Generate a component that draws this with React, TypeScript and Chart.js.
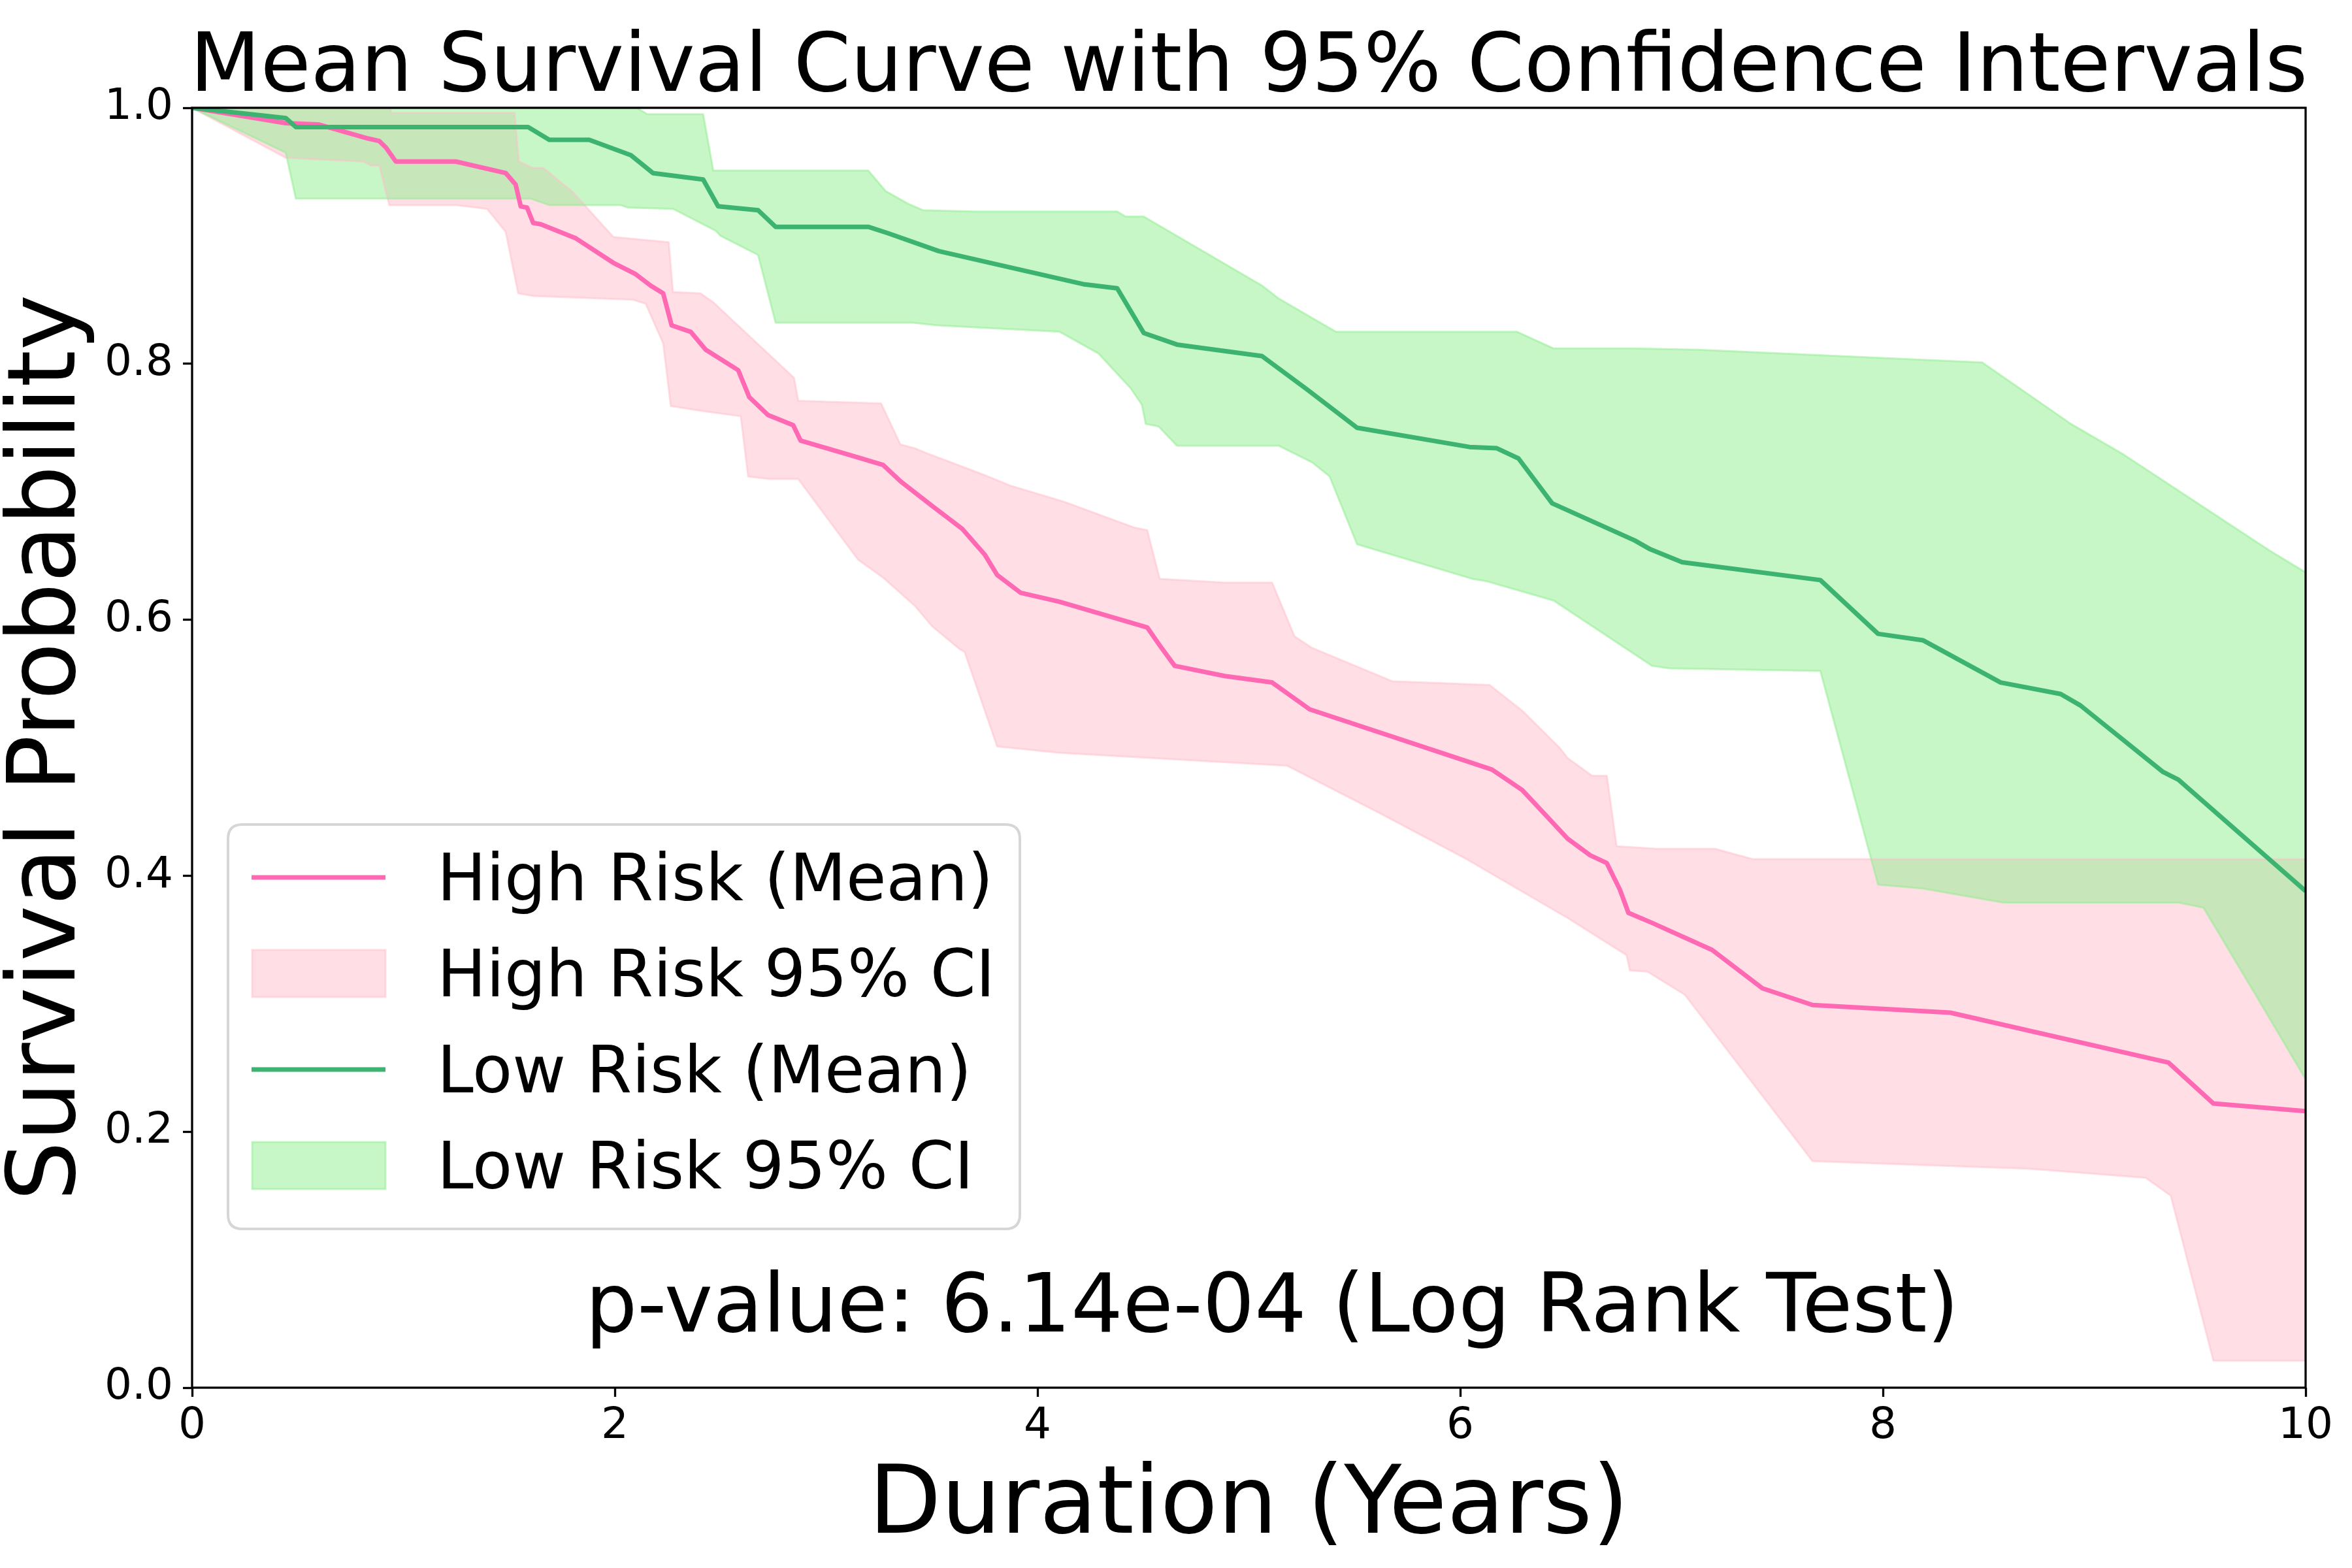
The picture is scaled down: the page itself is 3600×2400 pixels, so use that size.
import React, { useEffect, useRef } from 'react';
import { Chart, registerables } from 'chart.js';

Chart.register(...registerables);

const FONT = '"DejaVu Sans", "Liberation Sans", sans-serif';

// ---------- data ----------
const xTicks = [0, 2, 4, 6, 8, 10];
const yTicks = [0, 0.2, 0.4, 0.6, 0.8, 1.0];

const highMeanX = [0, 0.443, 0.597, 0.833, 0.886, 0.917, 0.964, 1.248, 1.484, 1.531, 1.555, 1.585, 1.614, 1.65, 1.816, 1.992, 2.099, 2.17, 2.229, 2.269, 2.359, 2.43, 2.584, 2.636, 2.725, 2.844, 2.879, 3.127, 3.269, 3.353, 3.501, 3.644, 3.75, 3.809, 3.921, 4.105, 4.519, 4.578, 4.649, 4.886, 5.11, 5.288, 6.15, 6.293, 6.395, 6.508, 6.615, 6.693, 6.756, 6.796, 6.91, 7.192, 7.43, 7.667, 8.319, 9.351, 9.564, 10];
const highMeanY = [1.0, 0.988, 0.987, 0.976, 0.974, 0.969, 0.958, 0.958, 0.949, 0.94, 0.923, 0.922, 0.91, 0.909, 0.898, 0.879, 0.87, 0.861, 0.855, 0.83, 0.825, 0.811, 0.795, 0.774, 0.76, 0.752, 0.74, 0.728, 0.721, 0.708, 0.689, 0.671, 0.651, 0.635, 0.621, 0.614, 0.594, 0.58, 0.564, 0.556, 0.551, 0.53, 0.483, 0.467, 0.449, 0.429, 0.416, 0.41, 0.389, 0.371, 0.363, 0.342, 0.312, 0.299, 0.293, 0.254, 0.222, 0.216];

const highUpperX = [0, 0.938, 0.943, 1.526, 1.546, 1.611, 1.662, 1.802, 1.993, 2.255, 2.275, 2.406, 2.466, 2.848, 2.868, 3.26, 3.351, 3.419, 3.478, 3.75, 3.868, 4.129, 4.459, 4.519, 4.578, 4.886, 5.11, 5.216, 5.299, 5.678, 6.139, 6.293, 6.47, 6.508, 6.625, 6.694, 6.74, 6.933, 7.206, 7.384, 10];
const highUpperY = [1.0, 1.0, 0.996, 0.996, 0.958, 0.953, 0.953, 0.934, 0.899, 0.895, 0.856, 0.855, 0.848, 0.789, 0.771, 0.769, 0.737, 0.734, 0.73, 0.713, 0.705, 0.692, 0.672, 0.67, 0.632, 0.629, 0.629, 0.587, 0.578, 0.552, 0.549, 0.529, 0.5, 0.492, 0.478, 0.478, 0.423, 0.421, 0.421, 0.413, 0.413];

const highLowerX = [0, 0.443, 0.81, 0.845, 0.886, 0.933, 1.248, 1.396, 1.484, 1.543, 1.614, 2.087, 2.146, 2.229, 2.265, 2.418, 2.596, 2.631, 2.725, 2.868, 3.151, 3.269, 3.419, 3.501, 3.632, 3.655, 3.809, 4.105, 5.181, 5.618, 6.03, 6.508, 6.787, 6.803, 6.886, 7.063, 7.667, 8.699, 9.244, 9.362, 9.564, 10];
const highLowerY = [1.0, 0.961, 0.958, 0.955, 0.955, 0.924, 0.924, 0.921, 0.903, 0.855, 0.853, 0.85, 0.847, 0.816, 0.767, 0.763, 0.759, 0.712, 0.71, 0.71, 0.647, 0.633, 0.611, 0.595, 0.577, 0.575, 0.501, 0.496, 0.486, 0.449, 0.413, 0.367, 0.338, 0.326, 0.325, 0.307, 0.177, 0.171, 0.164, 0.15, 0.021, 0.021];

const lowMeanX = [0, 0.443, 0.491, 1.59, 1.69, 1.879, 2.076, 2.181, 2.418, 2.489, 2.678, 2.761, 3.199, 3.293, 3.533, 4.223, 4.377, 4.503, 4.66, 5.062, 5.275, 5.512, 6.044, 6.173, 6.276, 6.435, 6.825, 6.9, 7.05, 7.704, 7.977, 8.189, 8.557, 8.841, 8.935, 9.326, 9.398, 10];
const lowMeanY = [1.0, 0.992, 0.985, 0.985, 0.975, 0.975, 0.963, 0.949, 0.944, 0.923, 0.92, 0.907, 0.907, 0.902, 0.888, 0.862, 0.859, 0.824, 0.815, 0.806, 0.78, 0.75, 0.735, 0.734, 0.726, 0.691, 0.662, 0.655, 0.645, 0.631, 0.589, 0.584, 0.551, 0.542, 0.533, 0.481, 0.475, 0.388];

const lowUpperX = [0, 2.104, 2.154, 2.418, 2.466, 3.199, 3.281, 3.388, 3.458, 3.702, 4.377, 4.417, 4.503, 5.063, 5.141, 5.412, 6.269, 6.442, 6.813, 7.127, 8.47, 8.89, 9.14, 9.83, 10];
const lowUpperY = [1.0, 1.0, 0.995, 0.995, 0.951, 0.951, 0.935, 0.925, 0.92, 0.919, 0.919, 0.915, 0.915, 0.861, 0.851, 0.825, 0.825, 0.812, 0.812, 0.811, 0.801, 0.753, 0.729, 0.654, 0.637];

const lowLowerX = [0, 0.443, 0.491, 1.602, 1.69, 2.028, 2.063, 2.276, 2.477, 2.5, 2.678, 2.761, 3.411, 3.525, 4.105, 4.289, 4.44, 4.494, 4.512, 4.573, 4.66, 5.141, 5.299, 5.382, 5.512, 6.056, 6.127, 6.442, 6.907, 6.99, 7.704, 7.977, 8.189, 8.569, 9.398, 9.517, 9.792, 10];
const lowLowerY = [1.0, 0.965, 0.929, 0.929, 0.924, 0.924, 0.922, 0.921, 0.904, 0.9, 0.885, 0.832, 0.832, 0.83, 0.825, 0.808, 0.781, 0.768, 0.753, 0.751, 0.736, 0.736, 0.723, 0.712, 0.659, 0.632, 0.63, 0.615, 0.564, 0.562, 0.56, 0.393, 0.39, 0.379, 0.379, 0.375, 0.299, 0.241];

const legendLabels = ['High Risk (Mean)', 'High Risk 95% CI', 'Low Risk (Mean)', 'Low Risk 95% CI'];
const titleText = 'Mean Survival Curve with 95% Confidence Intervals';
const xTitle = 'Duration (Years)';
const yTitle = 'Survival Probability';
const pValueText = 'p-value: 6.14e-04 (Log Rank Test)';
const pValueAt = [5.11, 0.044];

// ---------- styles ----------
const PINK_LINE = '#ff69b4';
const PINK_FILL = 'rgba(255,192,203,0.5)';
const GREEN_LINE = '#3cb371';
const GREEN_FILL = 'rgba(144,238,144,0.5)';

const pts = (xs: number[], ys: number[]) => xs.map((x, i) => ({ x, y: ys[i] }));

const decor = {
  id: 'decor',
  afterDraw(chart: any) {
    const { ctx, chartArea: a, scales } = chart;
    const cx = (a.left + a.right) / 2;
    const cy = (a.top + a.bottom) / 2;
    ctx.save();
    // frame
    ctx.strokeStyle = '#000';
    ctx.lineWidth = 3.3;
    ctx.strokeRect(a.left, a.top, a.right - a.left, a.bottom - a.top);

    ctx.fillStyle = '#000';
    ctx.textBaseline = 'alphabetic';
    ctx.textAlign = 'center';
    ctx.font = `125px ${FONT}`;
    ctx.fillText(titleText, cx, a.top - 26);

    ctx.font = `144px ${FONT}`;
    ctx.fillText(xTitle, cx, a.bottom + 222);
    ctx.save();
    ctx.translate(a.left - 180, cy);
    ctx.rotate(-Math.PI / 2);
    ctx.fillText(yTitle, 0, 0);
    ctx.restore();

    ctx.font = `125px ${FONT}`;
    ctx.fillText(pValueText, scales.x.getPixelForValue(pValueAt[0]), scales.y.getPixelForValue(pValueAt[1]));

    // legend
    const L = a.left + 55;
    const T = a.top + 1097;
    const W = 1212;
    const H = 619;
    const r = 22;
    ctx.beginPath();
    ctx.moveTo(L + r, T);
    ctx.lineTo(L + W - r, T);
    ctx.quadraticCurveTo(L + W, T, L + W, T + r);
    ctx.lineTo(L + W, T + H - r);
    ctx.quadraticCurveTo(L + W, T + H, L + W - r, T + H);
    ctx.lineTo(L + r, T + H);
    ctx.quadraticCurveTo(L, T + H, L, T + H - r);
    ctx.lineTo(L, T + r);
    ctx.quadraticCurveTo(L, T, L + r, T);
    ctx.closePath();
    ctx.fillStyle = 'rgba(255,255,255,0.8)';
    ctx.fill();
    ctx.strokeStyle = '#d6d6d6';
    ctx.lineWidth = 4;
    ctx.stroke();

    const kinds = ['line', 'patch', 'line', 'patch'];
    const colors = [PINK_LINE, PINK_FILL, GREEN_LINE, GREEN_FILL];
    ctx.font = `100px ${FONT}`;
    ctx.textAlign = 'left';
    legendLabels.forEach((lab, i) => {
      const ry = T + 81 + i * 147;
      if (kinds[i] === 'line') {
        ctx.strokeStyle = colors[i];
        ctx.lineWidth = 7;
        ctx.beginPath();
        ctx.moveTo(L + 36, ry);
        ctx.lineTo(L + 241, ry);
        ctx.stroke();
      } else {
        ctx.fillStyle = colors[i];
        ctx.fillRect(L + 37, ry - 36, 204, 72);
        ctx.strokeStyle = colors[i];
        ctx.lineWidth = 3;
        ctx.strokeRect(L + 37, ry - 36, 204, 72);
      }
      ctx.fillStyle = '#000';
      ctx.fillText(lab, L + 320, ry + 35);
    });
    ctx.restore();
  },
};

export default function App() {
  const ref = useRef<HTMLCanvasElement>(null);

  useEffect(() => {
    const canvas = ref.current as HTMLCanvasElement;
    const chart = new Chart(canvas, {
      type: 'line',
      data: {
        datasets: [
          {
            label: 'High Risk 95% CI upper',
            data: pts(highUpperX, highUpperY),
            borderColor: PINK_FILL,
            backgroundColor: PINK_FILL,
            borderWidth: 3,
            fill: '+1',
            order: 4,
          },
          {
            label: 'High Risk 95% CI lower',
            data: pts(highLowerX, highLowerY),
            borderColor: PINK_FILL,
            borderWidth: 3,
            fill: false,
            order: 4,
          },
          {
            label: 'Low Risk 95% CI upper',
            data: pts(lowUpperX, lowUpperY),
            borderColor: GREEN_FILL,
            backgroundColor: GREEN_FILL,
            borderWidth: 3,
            fill: '+1',
            order: 3,
          },
          {
            label: 'Low Risk 95% CI lower',
            data: pts(lowLowerX, lowLowerY),
            borderColor: GREEN_FILL,
            borderWidth: 3,
            fill: false,
            order: 3,
          },
          {
            label: legendLabels[0],
            data: pts(highMeanX, highMeanY),
            borderColor: PINK_LINE,
            borderWidth: 7,
            fill: false,
            order: 1,
          },
          {
            label: legendLabels[2],
            data: pts(lowMeanX, lowMeanY),
            borderColor: GREEN_LINE,
            borderWidth: 7,
            fill: false,
            order: 0,
          },
        ],
      },
      options: {
        responsive: false,
        animation: false,
        devicePixelRatio: 1,
        layout: { padding: { top: 165, right: 71, bottom: 0, left: 0 } },
        elements: {
          point: { radius: 0, hoverRadius: 0 },
          line: { tension: 0, borderJoinStyle: 'round', borderCapStyle: 'butt' },
        },
        plugins: {
          legend: { display: false },
          tooltip: { enabled: false },
          title: { display: false },
          filler: { drawTime: 'beforeDatasetsDraw' },
        },
        scales: {
          x: {
            type: 'linear',
            min: 0,
            max: 10,
            afterBuildTicks: (s: any) => {
              s.ticks = xTicks.map((v) => ({ value: v }));
            },
            afterFit: (s: any) => {
              s.height = 276;
            },
            ticks: {
              font: { family: FONT, size: 66 },
              color: '#000',
              padding: 6,
              maxRotation: 0,
              callback: (v: any) => String(v),
            },
            grid: {
              drawOnChartArea: false,
              drawTicks: true,
              tickLength: 14,
              tickWidth: 3.3,
              tickColor: '#000',
              color: '#000',
            },
            border: { display: false },
          },
          y: {
            type: 'linear',
            min: 0,
            max: 1,
            afterBuildTicks: (s: any) => {
              s.ticks = yTicks.map((v) => ({ value: v }));
            },
            afterFit: (s: any) => {
              s.width = 294;
            },
            ticks: {
              font: { family: FONT, size: 66 },
              color: '#000',
              padding: 15,
              callback: (v: any) => Number(v).toFixed(1),
            },
            grid: {
              drawOnChartArea: false,
              drawTicks: true,
              tickLength: 14,
              tickWidth: 3.3,
              tickColor: '#000',
              color: '#000',
            },
            border: { display: false },
          },
        },
      },
      plugins: [decor],
    } as any);
    return () => chart.destroy();
  }, []);

  return (
    <div style={{ position: 'absolute', left: 0, top: 0, width: 3600, height: 2400, background: '#fff' }}>
      <canvas ref={ref} width={3600} height={2400} style={{ display: 'block', width: 3600, height: 2400 }} />
    </div>
  );
}
